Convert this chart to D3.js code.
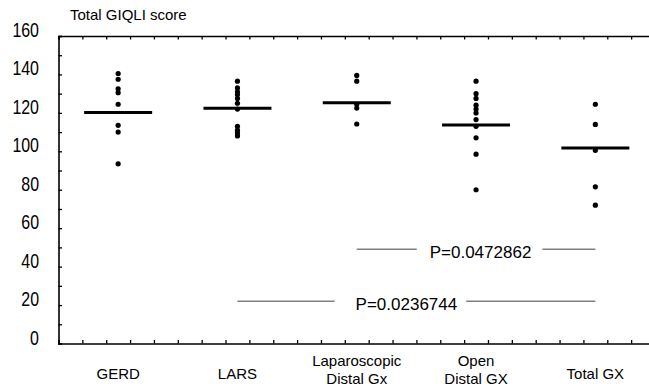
<!DOCTYPE html>
<html>
<head>
<meta charset="utf-8">
<script src="https://cdn.jsdelivr.net/npm/d3@7"></script>
<style>
  body { margin: 0; background: #fff; }
  svg { display: block; font-family: "Liberation Sans", Arial, sans-serif; }
</style>
</head>
<body>
<svg id="chart" width="649" height="388"></svg>
<script>
// data
var categories = ["GERD", "LARS", "Laparoscopic\nDistal Gx", "Open\nDistal GX", "Total GX"];
var gerd = [140.5, 137.5, 132.5, 130.5, 124.5, 113.5, 110, 93.5];
var lars = [136.5, 133, 131, 129.5, 127.5, 125, 122, 113, 111, 109.5, 108];
var lapDistal = [139.5, 136.5, 124.5, 122.5, 114.2];
var openDistal = [136.5, 130, 127.5, 124, 122, 120, 116.5, 113, 107, 98.5, 80];
var totalGx = [124.5, 114, 100.5, 81.5, 72];
var means = [120.2, 122.4, 125.3, 113.7, 101.7];
var yTicks = d3.range(0, 161, 10);
var pTests = [
  { from: 2, to: 4, y: 49, label: "P=0.0472862" },
  { from: 1, to: 4, y: 22, label: "P=0.0236744" }
];

var series = [gerd, lars, lapDistal, openDistal, totalGx];

var svg = d3.select("#chart");
var mLeft = 58.5, mRight = 655, mTop = 36, mBottom = 343.5;

var x = d3.scaleBand().domain(d3.range(categories.length)).range([mLeft, mRight]);
var y = d3.scaleLinear().domain([0, 160]).range([mBottom, mTop]);
// minor ticks, five per category
var xt = d3.scaleLinear().domain([0, categories.length * 5]).range([mLeft, mRight]);

function cx(i) { return x(i) + x.bandwidth() / 2; }

// frame: left, top, bottom axes with inward ticks
svg.append("g").attr("transform", "translate(" + mLeft + ",0)")
  .call(d3.axisLeft(y).tickValues(yTicks).tickSize(-3.5).tickFormat(""));
svg.append("g").attr("transform", "translate(0," + mBottom + ")")
  .call(d3.axisBottom(xt).tickValues(d3.range(0, 26)).tickSize(-3.5).tickFormat(""));
svg.append("g").attr("transform", "translate(0," + mTop + ")")
  .call(d3.axisTop(xt).tickValues(d3.range(0, 26)).tickSize(-3.5).tickFormat(""));
svg.selectAll(".domain").attr("stroke", "#000").attr("stroke-width", 1.6);
svg.selectAll(".tick line").attr("stroke", "#000").attr("stroke-width", 1.3);

// y labels, narrow digits
svg.append("g").selectAll("text")
  .data(yTicks.filter(function(d) { return d % 20 === 0; }))
  .enter().append("text")
  .attr("transform", function(d) { return "translate(39," + (y(d) + 1) + ") scale(0.76,1)"; })
  .attr("text-anchor", "end")
  .attr("font-size", "21px")
  .attr("fill", "#000")
  .text(function(d) { return d; });

// title
svg.append("text")
  .attr("x", 70).attr("y", 20)
  .attr("font-size", "15px")
  .text("Total GIQLI score");

// category labels
svg.append("g").selectAll("text")
  .data(categories)
  .enter().append("text")
  .attr("text-anchor", "middle")
  .attr("font-size", "15px")
  .each(function(d, i) {
    var lines = d.split("\n");
    var t = d3.select(this);
    var y0 = lines.length > 1 ? 366 : 379;
    lines.forEach(function(s, k) {
      t.append("tspan").attr("x", cx(i)).attr("y", y0 + k * 18).text(s);
    });
  });

// mean lines
svg.append("g").selectAll("line")
  .data(means)
  .enter().append("line")
  .attr("x1", function(d, i) { return cx(i) - x.bandwidth() * 0.285; })
  .attr("x2", function(d, i) { return cx(i) + x.bandwidth() * 0.285; })
  .attr("y1", function(d) { return y(d); })
  .attr("y2", function(d) { return y(d); })
  .attr("stroke", "#000")
  .attr("stroke-width", 3);

// dots
series.forEach(function(vals, i) {
  svg.append("g").selectAll("circle")
    .data(vals)
    .enter().append("circle")
    .attr("cx", cx(i))
    .attr("cy", function(d) { return y(d); })
    .attr("r", 2.6)
    .attr("fill", "#000");
});

// p-value brackets
pTests.forEach(function(p, k) {
  var x1 = cx(p.from), x2 = cx(p.to), yy = y(p.y);
  var mid = (x1 + x2) / 2 + (k === 0 ? 4.5 : -10);
  var t = svg.append("text")
    .attr("x", mid).attr("y", yy + 4)
    .attr("text-anchor", "middle")
    .attr("dominant-baseline", "middle")
    .attr("font-size", "17px")
    .text(p.label);
  var w = t.node().getComputedTextLength();
  var gapL = k === 0 ? 13 : 21, gapR = k === 0 ? 11 : 9;
  svg.append("line")
    .attr("x1", x1).attr("x2", mid - w / 2 - gapL)
    .attr("y1", yy).attr("y2", yy)
    .attr("stroke", "#808080").attr("stroke-width", 1.5);
  svg.append("line")
    .attr("x1", mid + w / 2 + gapR).attr("x2", x2)
    .attr("y1", yy).attr("y2", yy)
    .attr("stroke", "#808080").attr("stroke-width", 1.5);
});
</script>
</body>
</html>
